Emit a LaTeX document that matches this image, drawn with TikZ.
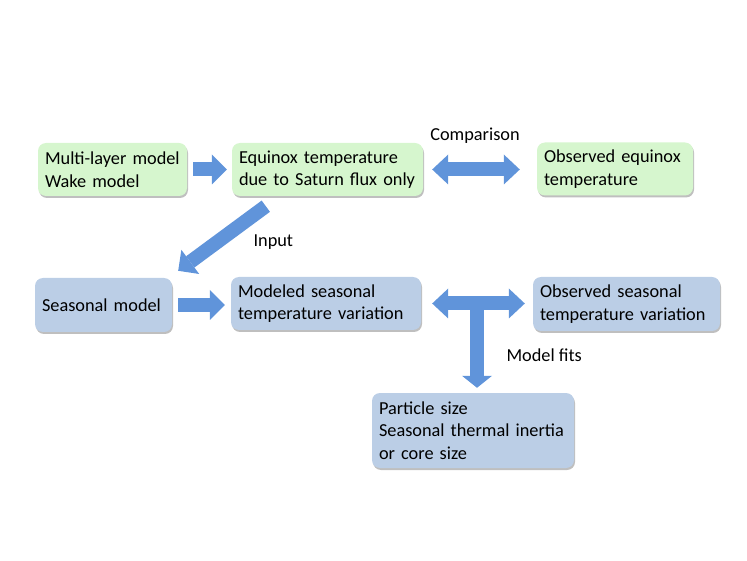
\documentclass[tikz,border=0pt]{standalone}
\usepackage{fontspec}
\setmainfont{Carlito}
\usetikzlibrary{arrows.meta,shadows,calc}

\definecolor{boxgreen}{RGB}{214,246,206}
\definecolor{boxblue}{RGB}{187,206,230}
\definecolor{arrowblue}{RGB}{96,148,218}

\tikzset{
  modelbox/.style={rounded corners=8pt, inner xsep=7pt, align=left,
    minimum height=53pt, font=\fontsize{18.3}{22.5}\selectfont,
    drop shadow={shadow xshift=1pt, shadow yshift=-2pt, fill=black, opacity=0.25}},
  greenbox/.style={modelbox, fill=boxgreen},
  bluebox/.style={modelbox, fill=boxblue},
  label/.style={font=\fontsize{18.3}{22.5}\selectfont},
  blockarrow/.style={arrowblue, line width=14pt,
    -{Triangle[width=30pt, length=15pt, line width=0pt]}},
  twoway/.style={arrowblue, line width=14pt,
    {Triangle[width=30pt, length=16pt, line width=0pt]}-{Triangle[width=30pt, length=16pt, line width=0pt]}}
}

\begin{document}
\begin{tikzpicture}[x=1pt, y=-1pt]
  \useasboundingbox (0,0) rectangle (747,561);

  % equinox row
  \node[greenbox, text width=135pt] (multi) at (112.5,169.5) {Multi-layer model\\Wake model};
  \node[greenbox, text width=177pt] (eqx) at (327.5,169.5) {Equinox temperature\\due to Saturn flux only};
  \node[greenbox, text width=142pt] (obseq) at (615,169) {Observed equinox\\temperature};

  % seasonal row
  \node[bluebox, text width=123pt, minimum height=54pt] (seas) at (103.5,305) {Seasonal model};
  \node[bluebox, text width=176pt] (modseas) at (326,303.5) {Modeled seasonal\\temperature variation};
  \node[bluebox, text width=173pt, minimum height=54pt] (obsseas) at (626.5,304) {Observed seasonal\\temperature variation};
  \node[bluebox, text width=188pt, minimum height=75pt] (fit) at (473,430.5) {Particle size\\Seasonal thermal inertia\\or core size};

  % labels
  \node[label] (cmp) at (475,136) {Comparison};
  \node[label, anchor=west] (inp) at (250,242) {Input};
  \node[label, anchor=west] (fits) at (503,355) {Model fits};

  % arrows
  \draw[blockarrow, shorten <=6pt, shorten >=5pt] (multi.east) -- (multi.east -| eqx.west);
  \draw[twoway, shorten <=9pt, shorten >=17pt] (eqx.east) -- (eqx.east -| obseq.west);
  \coordinate (inpstart) at ($(eqx.south west)+(34,10)$);
  \coordinate (inpend) at ($(seas.north east)+(6,-7)$);
  \draw[blockarrow] (inpstart) -- (inpend);
  \draw[blockarrow, shorten <=6pt, shorten >=6pt] (seas.east) -- (seas.east -| modseas.west);
  \draw[twoway, shorten <=11pt, shorten >=8pt] (modseas.east) -- (modseas.east -| obsseas.west);
  \coordinate (tee) at ($(modseas.east)!0.5!(modseas.east -| obsseas.west)$);
  \draw[blockarrow, -{Triangle[width=30pt, length=12pt, line width=0pt]}, shorten >=5pt] (tee) -- (tee |- fit.north);
\end{tikzpicture}
\end{document}
